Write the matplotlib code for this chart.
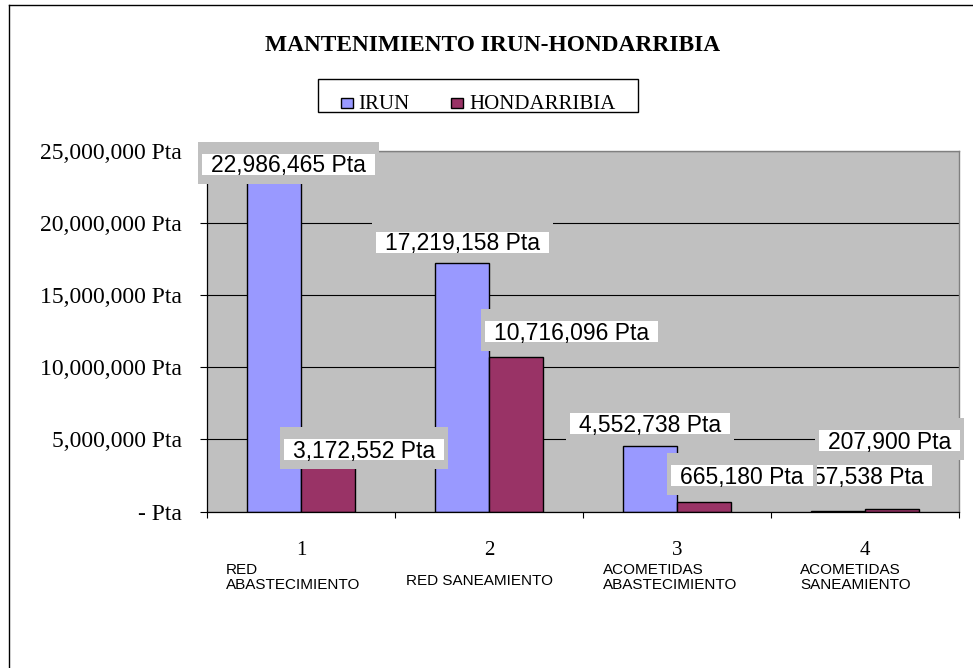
import numpy as np
import matplotlib.pyplot as plt
from matplotlib.patches import Rectangle
from matplotlib.lines import Line2D
from matplotlib.transforms import IdentityTransform
from matplotlib.ticker import FuncFormatter, MultipleLocator

# data
categories = ["1", "2", "3", "4"]
category_names = ["RED\nABASTECIMIENTO", "RED SANEAMIENTO",
                  "ACOMETIDAS\nABASTECIMIENTO", "ACOMETIDAS\nSANEAMIENTO"]
series_names = ["IRUN", "HONDARRIBIA"]
irun = [22986465, 17219158, 4552738, 57538]
hondarribia = [3172552, 10716096, 665180, 207900]
title = "MANTENIMIENTO IRUN-HONDARRIBIA"

# where the value labels sit, pixels from the top centre of each bar
irun_label_off = [(14, 16), (0, 21), (0, 22), (30, 35)]
hond_label_off = [(36, 16), (56, 25), (38, 26), (-2, 68)]
# category name text: (dx, dy, ha) pixels from the category centre on the axis
name_off = [(-75, -66, 'left'), (-9, -69.5, 'center'),
            (-74, -66, 'left'), (-65, -66, 'left')]

BLUE = '#9999FF'
RED = '#993366'
GREY = '#C0C0C0'
SERIF = 'Liberation Serif'
SANS = 'Liberation Sans'

W, H, DPI = 973, 668, 100


def fx(x):
    return x / W


def fy(y):
    return 1 - y / H


def ylabel_fmt(v, pos):
    if v == 0:
        return "- Pta"
    return f"{v:,.0f} Pta"


fig = plt.figure(figsize=(W / DPI, H / DPI), dpi=DPI)
ax = fig.add_axes([fx(207), fy(511.5), (959 - 207) / W, (511.5 - 151) / H])
ax.set_facecolor(GREY)

x = np.arange(len(categories))
w = 1 / 3.5
ax.bar(x - w / 2, irun, w, color=BLUE, edgecolor='black', lw=1.0, zorder=2)
ax.bar(x + w / 2, hondarribia, w, color=RED, edgecolor='black', lw=1.0, zorder=2)

ax.set_xlim(-0.5, len(categories) - 0.5)
ax.set_ylim(0, 25e6)
ax.set_axisbelow(True)
ax.yaxis.grid(True, color='black', lw=0.8)

for s in ['top', 'right']:
    ax.spines[s].set_color('#808080')
    ax.spines[s].set_linewidth(1.0)
for s in ['left', 'bottom']:
    ax.spines[s].set_color('black')
    ax.spines[s].set_linewidth(0.9)

ax.yaxis.set_major_locator(MultipleLocator(5e6))
ax.yaxis.set_major_formatter(FuncFormatter(ylabel_fmt))
ax.tick_params(axis='y', direction='out', length=5, width=0.8, pad=13,
               labelsize=17, labelfontfamily=SERIF)

ax.set_xticks(x, categories)
ax.set_xticks(np.arange(len(categories) + 1) - 0.5, minor=True)
ax.tick_params(axis='x', which='major', length=0, pad=21,
               labelsize=15, labelfontfamily=SERIF)
ax.tick_params(axis='x', which='minor', direction='out', length=4.5, width=0.8)

# category names under the numbers
for i, (name, (dx, dy, ha)) in enumerate(zip(category_names, name_off)):
    ax.annotate(name, xy=(x[i], 0), xytext=(dx, dy), textcoords='offset pixels',
                ha=ha, va='center', multialignment='left', fontsize=11,
                family=SANS, linespacing=1.1, annotation_clip=False)

# value labels: text first, boxes measured afterwards
fs = 16.5
cap = 0.716 * fs * DPI / 72
items = []
for i in range(len(categories)):
    items.append((x[i] - w / 2, irun[i], irun_label_off[i]))
for i in range(len(categories)):
    items.append((x[i] + w / 2, hondarribia[i], hond_label_off[i]))

texts = []
for k, (xc, v, (dx, dy)) in enumerate(items):
    t = ax.annotate(f"{v:,} Pta", xy=(xc, v), xytext=(dx, dy - cap / 2),
                    textcoords='offset pixels', ha='center', va='baseline',
                    fontsize=fs, family=SANS, zorder=5 + 3 * k,
                    annotation_clip=False)
    texts.append(t)

fig.canvas.draw()
for k, ((xc, v, (dx, dy)), t) in enumerate(zip(items, texts)):
    bb = t.get_window_extent()
    cy = ax.transData.transform((xc, v))[1] + dy
    ax.add_patch(Rectangle((bb.x0 - 13, cy + 1.5 - 21), bb.width + 26, 42,
                           transform=IdentityTransform(), facecolor=GREY,
                           edgecolor='none', zorder=3 + 3 * k, clip_on=False))
    ax.add_patch(Rectangle((bb.x0 - 9, cy - 10.5), bb.width + 18, 21,
                           transform=IdentityTransform(), facecolor='white',
                           edgecolor='none', zorder=4 + 3 * k, clip_on=False))

# title
fig.text(fx(492.5), fy(50.7), title, ha='center', va='baseline',
         fontsize=16.8, fontweight='bold', family=SERIF)

# legend box drawn by hand
fig.add_artist(Rectangle((fx(318), fy(112)), (638 - 318) / W, (112 - 79) / H,
                         transform=fig.transFigure, facecolor='white',
                         edgecolor='black', lw=1.0))
for name, color, mx, tx in [(series_names[0], BLUE, 341, 358),
                            (series_names[1], RED, 451, 469)]:
    fig.add_artist(Rectangle((fx(mx), fy(107.5)), 12 / W, 10 / H,
                             transform=fig.transFigure, facecolor=color,
                             edgecolor='black', lw=1.0))
    fig.text(fx(tx), fy(109), name, ha='left', va='baseline', fontsize=15,
             family=SERIF)

# outer frame (top and left edges only are visible)
fig.add_artist(Line2D([fx(8.5), fx(973)], [fy(4.5), fy(4.5)],
                      transform=fig.transFigure, color='black', lw=1.0))
fig.add_artist(Line2D([fx(8.5), fx(8.5)], [fy(4.5), fy(668)],
                      transform=fig.transFigure, color='black', lw=1.0))

fig.savefig('out.png', dpi=DPI)
